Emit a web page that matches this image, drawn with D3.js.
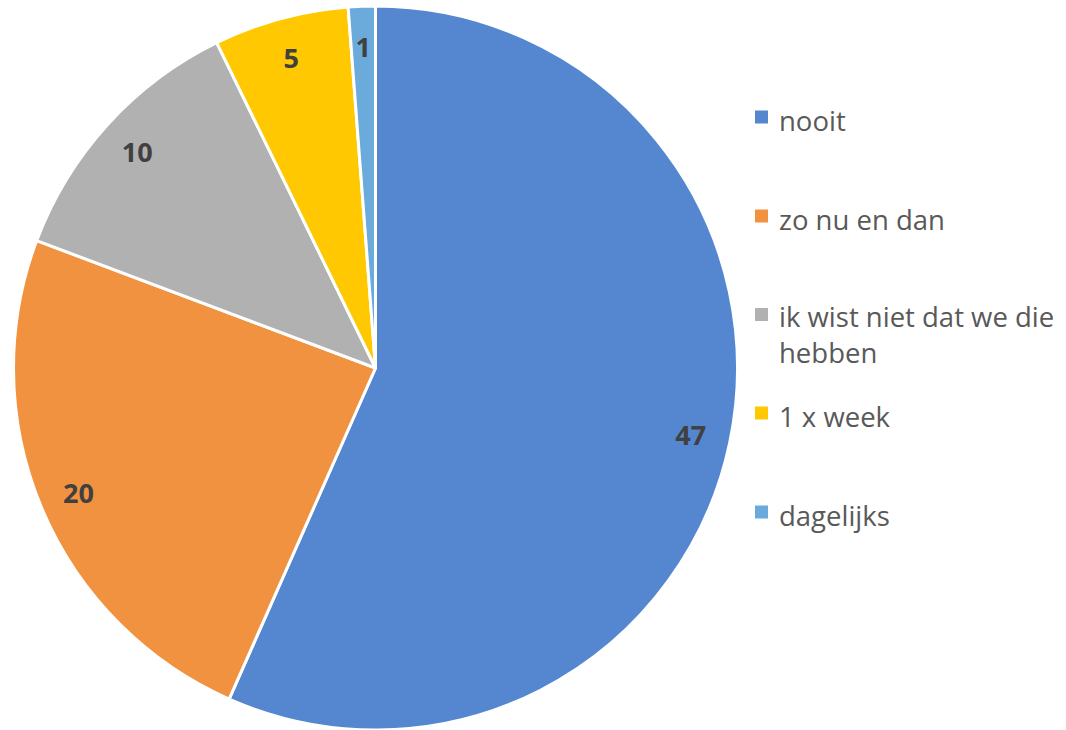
<!DOCTYPE html>
<html>
<head>
<meta charset="utf-8">
<script src="https://cdn.jsdelivr.net/npm/d3@7"></script>
<style>
  html, body { margin: 0; padding: 0; background: #fff; }
  svg { display: block; }
</style>
</head>
<body>
<svg id="chart" width="1066" height="730"></svg>
<script>
const categories = ["nooit", "zo nu en dan", "ik wist niet dat we die hebben", "1 x week", "dagelijks"];
const legendLines = [["nooit"], ["zo nu en dan"], ["ik wist niet dat we die", "hebben"], ["1 x week"], ["dagelijks"]];
const values = [47, 20, 10, 5, 1];
const colors = ["#5587D0", "#F19241", "#B1B1B1", "#FFC800", "#6AABDC"];

const svg = d3.select("#chart");
const cx = 375.5, cy = 368, R = 362;
const font = "'Open Sans', Lato, sans-serif";

const pie = d3.pie().sort(null).value(d => d)(values);
const arc = d3.arc().innerRadius(0).outerRadius(R);
const labelArc = d3.arc().innerRadius(R * 0.89).outerRadius(R * 0.89);

const g = svg.append("g").attr("transform", `translate(${cx},${cy})`);
g.selectAll("path").data(pie).join("path")
  .attr("d", arc)
  .attr("fill", (d, i) => colors[i])
  .attr("stroke", "#fff")
  .attr("stroke-width", 3)
  .attr("stroke-linejoin", "round");

g.selectAll("text.lbl").data(pie).join("text")
  .attr("class", "lbl")
  .attr("transform", d => `translate(${labelArc.centroid(d)})`)
  .attr("text-anchor", "middle")
  .attr("dominant-baseline", "central")
  .attr("font-family", font)
  .attr("font-weight", "bold")
  .attr("font-size", 27)
  .attr("fill", "#404040")
  .text(d => d.data);

// legend
const legendY = [117, 216, 314.5, 413, 512];
const lg = svg.append("g");
legendLines.forEach((lines, i) => {
  lg.append("rect")
    .attr("x", 755).attr("y", legendY[i] - 6.5)
    .attr("width", 13).attr("height", 13)
    .attr("fill", colors[i]);
  const off = lines.length > 1 ? 1 : 0;
  lines.forEach((ln, j) => {
    lg.append("text")
      .attr("x", 779).attr("y", legendY[i] + 13.5 - off + j * 36)
      .attr("font-family", font)
      .attr("font-size", 27.5)
      .attr("fill", "#595959")
      .text(ln);
  });
});
</script>
</body>
</html>
